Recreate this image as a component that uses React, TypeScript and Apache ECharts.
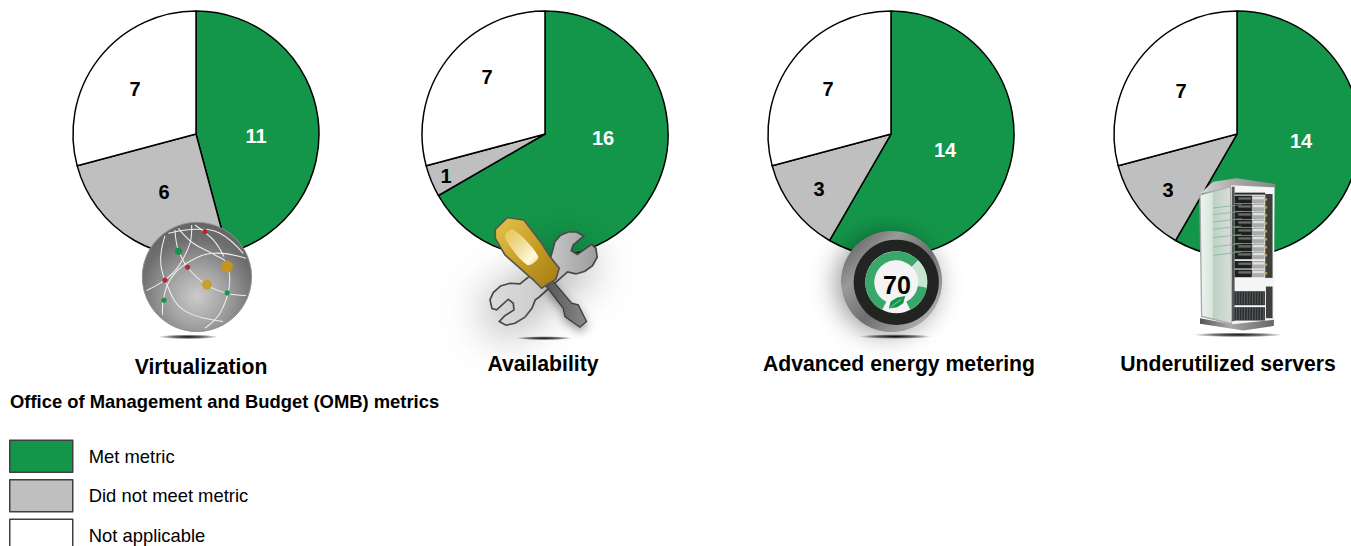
import React, { useEffect, useRef } from "react";
import * as echarts from "echarts";

const categories = ["Met metric", "Did not meet metric", "Not applicable"];
const colors = ["#14964a", "#bfbfbf", "#ffffff"];
const labelColors = ["#ffffff", "#000000", "#000000"];
const virtualization = [11, 6, 7];
const availability = [16, 1, 7];
const energyMetering = [14, 3, 7];
const underutilized = [14, 3, 7];
const seriesValues = [virtualization, availability, energyMetering, underutilized];
const pieCentres = [[196, 134], [545, 134], [891, 134], [1237, 134]];
const labelSpots = [
  [[256, 136], [164, 192], [135, 89]],
  [[603, 138], [446, 176], [487, 77]],
  [[945, 150], [819, 189], [828, 89]],
  [[1301, 141], [1168, 190], [1181, 91]],
];
const pieTitles = ["Virtualization", "Availability", "Advanced energy metering", "Underutilized servers"];
const titleSpots = [[201, 356], [543, 353], [899, 353], [1228, 353]];
const legendHeading = "Office of Management and Budget (OMB) metrics";
const FONT = "'Liberation Sans', Arial, sans-serif";

const { LinearGradient, RadialGradient } = echarts.graphic;
const Z = 50;

const poly = (points: number[][], style: any, smooth = 0) => ({ type: "polygon", z: Z, shape: { points, smooth }, style });
const line = (points: number[][], style: any, smooth = 0.4) => ({ type: "polyline", z: Z, shape: { points, smooth }, style: { fill: null, ...style } });
const circle = (cx: number, cy: number, r: number, fill: any, extra: any = {}) => ({ type: "circle", z: Z, shape: { cx, cy, r }, style: { fill, ...extra } });
const rect = (x: number, y: number, width: number, height: number, fill: any) => ({ type: "rect", z: Z, shape: { x, y, width, height }, style: { fill } });
const footShadow = (cx: number, cy: number, rx: number, ry: number) => ({
  type: "ellipse", z: Z, shape: { cx, cy, rx, ry },
  style: { fill: new RadialGradient(0.5, 0.5, 0.5, [
    { offset: 0, color: "rgba(0,0,0,0.95)" }, { offset: 0.55, color: "rgba(0,0,0,0.55)" }, { offset: 1, color: "rgba(0,0,0,0)" },
  ]) },
});
const icon = (x: number, y: number, children: any[]) => ({ type: "group", x, y, scaleX: 1 / 3, scaleY: 1 / 3, z: Z, children });

const globeLines = [
  [[135, 108], [122, 180], [137, 245], [190, 330], [310, 365]],
  [[165, 90], [175, 150], [205, 205], [260, 255], [320, 280], [378, 287]],
  [[215, 75], [210, 130], [175, 200], [135, 240], [80, 272]],
  [[128, 345], [130, 300], [150, 240], [200, 190], [280, 160], [378, 175]],
  [[145, 100], [230, 88], [300, 100], [370, 160]],
  [[175, 85], [220, 130], [285, 165], [320, 190], [328, 260], [300, 340], [255, 385]],
  [[225, 75], [280, 120], [312, 170]],
];
const globeDots: [number, number, number, string][] = [
  [255, 95, 8, "#b5283c"], [203, 202, 8, "#b5283c"], [135, 241, 8, "#b5283c"],
  [176, 154, 11, "#14964a"], [322, 279, 8, "#14964a"], [132, 301, 8, "#14964a"],
  [321, 200, 18, "#c4951f"], [261, 254, 15, "#c9a02e"],
];
const globe = icon(120, 200, [
  footShadow(205, 411, 90, 7),
  circle(231, 231, 164, new RadialGradient(0.5, 0.68, 0.66, [
    { offset: 0, color: "#cbcbcb" }, { offset: 0.4, color: "#a2a2a2" }, { offset: 0.8, color: "#6f6f6f" }, { offset: 1, color: "#666666" },
  ]), { stroke: "#8f8f8f", lineWidth: 3 }),
  ...globeLines.map((p) => line(p, { stroke: "#ededed", lineWidth: 3.2 })),
  ...globeDots.map(([x, y, r, c]) => circle(x, y, r, c)),
]);

const wrenchOutline = [
  [248, 152], [255, 125], [272, 106], [295, 96], [320, 96], [342, 108], [310, 135], [304, 152], [322, 164], [365, 133], [378, 145],
  [382, 172], [368, 197], [345, 214], [318, 222], [293, 216], [207, 292], [196, 300], [186, 325], [165, 352], [135, 370], [108, 376], [88, 365], [104, 348],
  [132, 330], [130, 310], [115, 298], [80, 330], [66, 326], [60, 300], [70, 278], [92, 258], [120, 250], [150, 252], [240, 180],
];
const driverHandle = [
  [76, 88], [112, 53], [162, 60], [215, 130], [240, 170], [268, 205], [258, 238], [215, 265], [190, 240], [165, 218], [105, 165], [76, 115],
];
const driverShaft = [[228, 258], [248, 242], [305, 310], [325, 315], [350, 365], [330, 382], [285, 350], [280, 325]];
const tools = icon(470, 200, [
  footShadow(222, 415, 85, 6),
  poly(wrenchOutline, { fill: "rgba(70,70,70,0.6)", shadowBlur: 46, shadowColor: "rgba(0,0,0,0.8)", shadowOffsetX: -6, shadowOffsetY: 10 }),
  poly(wrenchOutline, {
    fill: new LinearGradient(0, 0.5, 1, 0.5, [{ offset: 0, color: "#dcdcdc" }, { offset: 0.5, color: "#cccccc" }, { offset: 1, color: "#9c9c9c" }]),
    stroke: "#474747", lineWidth: 5,
  }),
  poly(driverShaft, {
    fill: new LinearGradient(0, 0, 1, 0, [{ offset: 0, color: "#555" }, { offset: 1, color: "#8a8a8a" }]),
    stroke: "#3d3d3d", lineWidth: 4, shadowBlur: 10, shadowColor: "rgba(0,0,0,0.4)", shadowOffsetY: 4,
  }),
  poly(driverHandle, {
    fill: new LinearGradient(0, 0, 1, 1, [{ offset: 0, color: "#e6c44e" }, { offset: 0.55, color: "#c49a22" }, { offset: 1, color: "#a37a14" }]),
    stroke: "#555", lineWidth: 5,
  }),
  poly([[105, 112], [128, 88], [205, 170], [172, 195]], {
    fill: new LinearGradient(0, 0, 1, 1, [{ offset: 0, color: "rgba(235,205,100,0.7)" }, { offset: 0.8, color: "#fff8dc" }, { offset: 1, color: "#e8d48c" }]),
  }, 0.3),
]);

const thermostat = icon(820, 220, [
  footShadow(225, 350, 108, 7),
  circle(215, 185, 152, new LinearGradient(0, 0, 1, 1, [
    { offset: 0, color: "#4f4f4f" }, { offset: 0.3, color: "#9a9a9a" }, { offset: 0.55, color: "#6e6e6e" }, { offset: 1, color: "#c8c8c8" },
  ]), { shadowBlur: 26, shadowColor: "rgba(0,0,0,0.4)", shadowOffsetX: -5, shadowOffsetY: 2 }),
  circle(229, 187, 128, "#222422"),
  circle(229, 187, 93, "#f4f4f4"),
  { type: "sector", z: Z, shape: { cx: 229, cy: 187, r: 93, r0: 66, startAngle: (117 * Math.PI) / 180, endAngle: (315 * Math.PI) / 180 }, style: { fill: "#3aa76a" } },
  { type: "sector", z: Z, shape: { cx: 229, cy: 187, r: 93, r0: 66, startAngle: (316 * Math.PI) / 180, endAngle: (370 * Math.PI) / 180 }, style: { fill: "#c6e6d2" } },
  { type: "sector", z: Z, shape: { cx: 229, cy: 187, r: 93, r0: 66, startAngle: (10 * Math.PI) / 180, endAngle: (63 * Math.PI) / 180 }, style: { fill: "#3aa76a" } },
  poly([[207, 266], [212, 245], [232, 233], [256, 228], [250, 250], [232, 262]], { fill: "#14964a" }),
  line([[212, 262], [244, 238]], { stroke: "#ffffff", lineWidth: 1.5 }, 0),
]);

const rackRows = [88, 112, 136, 160, 184, 208, 232, 256, 284, 310];
const rackLines = [108, 128, 150, 172, 197, 225, 250];
const grilleTicks = [200, 208, 216, 224, 232, 240, 248, 256, 264, 272, 280];
const rack = icon(1170, 170, [
  footShadow(205, 495, 135, 7),
  poly([[90, 75], [182, 50], [186, 462], [95, 440]], {
    fill: new LinearGradient(0, 0, 1, 0, [{ offset: 0, color: "#eef4ef" }, { offset: 0.38, color: "#d8e6dc" }, { offset: 0.42, color: "#bcd2c3" }, { offset: 1, color: "#dcdcdc" }]),
    stroke: "#a8a8a8", lineWidth: 4,
  }),
  poly([[88, 72], [130, 35], [200, 25], [316, 42], [316, 52], [185, 50]], { fill: new LinearGradient(0, 0, 1, 0, [{ offset: 0, color: "#d8d8d8" }, { offset: 0.5, color: "#a6a6a6" }, { offset: 1, color: "#888" }]) }),
  poly([[184, 46], [314, 52], [312, 452], [186, 462]], { fill: "#f5f5f5" }),
  rect(186, 50, 8, 404, "#55585a"),
  rect(194, 68, 92, 6, "#2b2d2b"),
  rect(286, 72, 22, 252, "#3c3f3c"),
  rect(288, 350, 20, 95, "#3c3f3c"),
  ...rackRows.flatMap((y) => [
    rect(194, y - 11, 52, 23, "#1e201e"),
    rect(246, y - 11, 38, 23, "#a9acaa"),
    rect(248, y - 7, 34, 7, "#dfe1df"),
    rect(205, y - 6, 38, 7, "#6a6c6a"),
    circle(288, y, 4, "#c9a02e"),
  ]),
  rect(193, 364, 92, 42, "#2c2f30"),
  rect(193, 412, 92, 40, "#2c2f30"),
  ...grilleTicks.flatMap((x) => [
    line([[x, 366], [x, 404]], { stroke: "#8a8d8e", lineWidth: 1.5 }, 0),
    line([[x, 414], [x, 450]], { stroke: "#8a8d8e", lineWidth: 1.5 }, 0),
  ]),
  ...rackLines.map((y) => ({ type: "line", z: Z, shape: { x1: 130, y1: y + 6, x2: 215, y2: y - 4 }, style: { stroke: "#6fb28a", lineWidth: 2 } })),
  poly([[90, 445], [186, 463], [312, 450], [312, 468], [220, 482], [90, 462]], { fill: new LinearGradient(0, 0, 1, 0, [{ offset: 0, color: "#555" }, { offset: 0.4, color: "#a8a8a8" }, { offset: 1, color: "#666" }]) }),
]);

function buildOption() {
  return {
    animation: false,
    backgroundColor: "#ffffff",
    textStyle: { fontFamily: FONT },
    title: [
      ...pieTitles.map((text, i) => ({
        text, left: titleSpots[i][0], top: titleSpots[i][1], textAlign: "center", padding: 0,
        textStyle: { fontFamily: FONT, fontWeight: "bold", fontSize: 21.2, color: "#000" },
      })),
      { text: legendHeading, left: 10, top: 392, padding: 0, textStyle: { fontFamily: FONT, fontWeight: "bold", fontSize: 18.4, color: "#000" } },
    ],
    legend: {
      orient: "vertical", left: 9, top: 439.5, height: 130, padding: 0, itemWidth: 63, itemHeight: 32, itemGap: 6,
      selectedMode: false, icon: "rect", data: categories,
      itemStyle: { borderColor: "#404040", borderWidth: 1.5 },
      textStyle: { fontFamily: FONT, fontSize: 18.4, color: "#000", padding: [0, 0, 11, 11] },
    },
    series: seriesValues.map((vals, s) => ({
      type: "pie", center: pieCentres[s], radius: 123, startAngle: 90, clockwise: true, silent: true,
      avoidLabelOverlap: false,
      itemStyle: { borderColor: "#000", borderWidth: 1.5 },
      labelLine: { show: false },
      label: { show: true, position: "inside", formatter: "{c}", fontFamily: FONT, fontWeight: "bold", fontSize: 20 },
      labelLayout: (p: any) => ({ x: labelSpots[s][p.dataIndex][0], y: labelSpots[s][p.dataIndex][1], align: "center", verticalAlign: "middle" }),
      data: vals.map((value, i) => ({
        name: categories[i], value, itemStyle: { color: colors[i] }, label: { color: labelColors[i] },
      })),
    })),
    graphic: {
      z: Z,
      elements: [
        globe, tools, thermostat, rack,
        { type: "text", z: Z + 1, zlevel: 0, x: 897, y: 285, style: { text: "70", fontFamily: FONT, fontWeight: "bold", fontSize: 25, fill: "#000", align: "center", verticalAlign: "middle" } },
      ],
    },
  };
}

export default function App() {
  const ref = useRef<HTMLDivElement>(null);
  useEffect(() => {
    document.body.style.margin = "0";
    document.body.style.overflow = "hidden";
    const chart = echarts.init(ref.current!, null, { renderer: "svg" });
    chart.setOption(buildOption() as any);
    return () => chart.dispose();
  }, []);
  return <div ref={ref} style={{ width: 1351, height: 546 }} />;
}
